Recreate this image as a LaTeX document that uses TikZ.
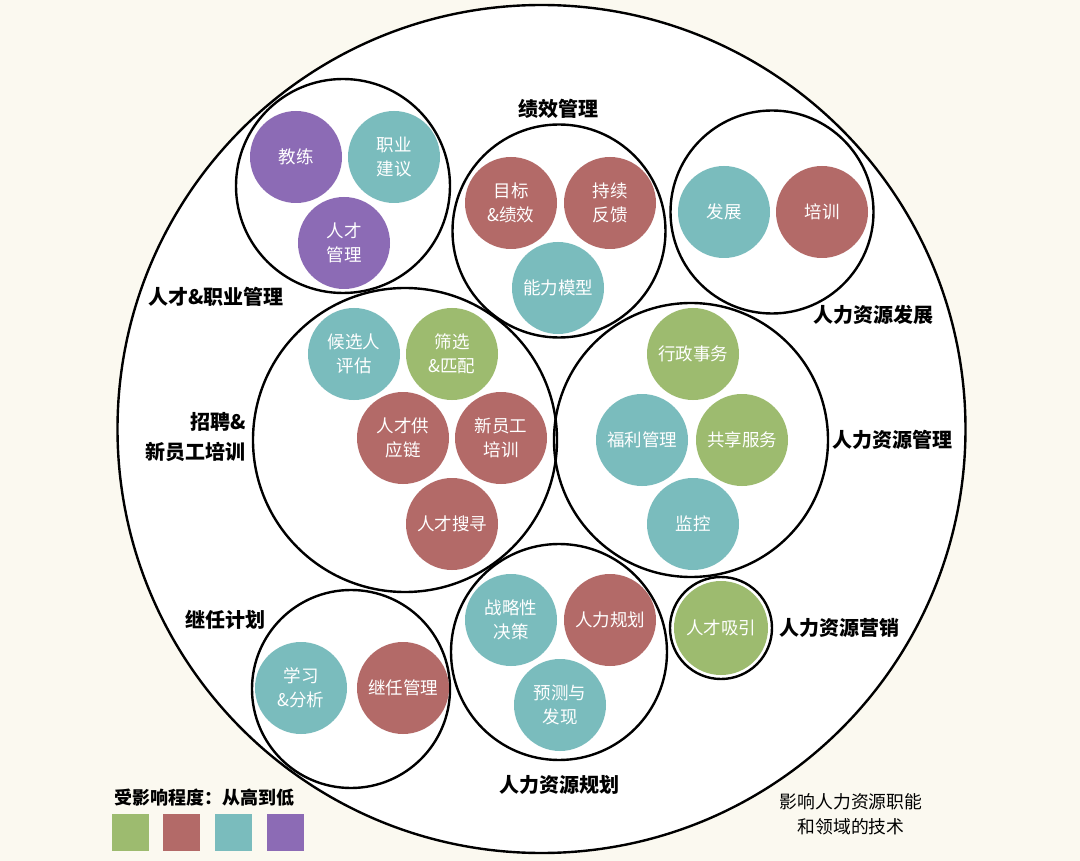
\documentclass[tikz,border=0pt]{standalone}
\usepackage{fontspec}
\setmainfont{Noto Sans CJK SC}
\definecolor{cgreen}{HTML}{9DBB6F}
\definecolor{cred}{HTML}{B36A68}
\definecolor{cteal}{HTML}{7ABCBD}
\definecolor{cpurple}{HTML}{8C6BB5}
\definecolor{bgcream}{HTML}{FBF9F0}
\tikzset{
  bub/.style={circle, fill=#1, draw=none, minimum size=92pt, inner sep=0pt, text=white, align=center, font=\fontsize{17.5}{24}\selectfont},
  grp/.style={circle, draw=black, line width=2.4pt, minimum size=#1, inner sep=0pt},
  lab/.style={font=\bfseries\fontsize{20}{30}\selectfont, text=black, inner sep=0pt},
  note/.style={font=\fontsize{17.8}{25}\selectfont, text=black, align=center, inner sep=0pt},
  legsq/.style={fill=#1, draw=none, minimum size=37pt, inner sep=0pt}
}
\begin{document}
\begin{tikzpicture}[x=1pt,y=-1pt]
\useasboundingbox (0,0) rectangle (1080,861);
\fill[bgcream] (0,0) rectangle (1080,861);
% outer circle
\node[grp=848pt, fill=white] (outer) at (541.5,429) {};
% group circles
\node[grp=214pt] (gtalent) at (343,186) {};
\node[grp=213pt] (gperf) at (559,231) {};
\node[grp=203pt] (gdev) at (772,212) {};
\node[grp=304pt] (grec) at (405,440) {};
\node[grp=274pt] (gadm) at (691,440) {};
\node[grp=198pt] (gsucc) at (351,689) {};
\node[grp=216pt] (gplan) at (559,652) {};
\node[grp=102pt] (gmkt) at (721,628) {};
% bubbles: talent & career
\node[bub=cpurple] (b1) at (296,157) {教练};
\node[bub=cteal] (b2) at (394,157) {职业\\建议};
\node[bub=cpurple] (b3) at (344,243) {人才\\管理};
% performance
\node[bub=cred] (b4) at (511,203) {目标\\\&绩效};
\node[bub=cred] (b5) at (610,203) {持续\\反馈};
\node[bub=cteal] (b6) at (558,288) {能力模型};
% development
\node[bub=cteal] (b7) at (724,212) {发展};
\node[bub=cred] (b8) at (822,212) {培训};
% recruiting
\node[bub=cteal] (b9) at (354,354) {候选人\\评估};
\node[bub=cgreen] (b10) at (452,354) {筛选\\\&匹配};
\node[bub=cred] (b11) at (403,438) {人才供\\应链};
\node[bub=cred] (b12) at (501,438) {新员工\\培训};
\node[bub=cred] (b13) at (452,524) {人才搜寻};
% HR admin
\node[bub=cgreen] (b14) at (693,354) {行政事务};
\node[bub=cteal] (b15) at (642,440) {福利管理};
\node[bub=cgreen] (b16) at (742,440) {共享服务};
\node[bub=cteal] (b17) at (693,524) {监控};
% succession
\node[bub=cteal] (b18) at (301,688) {学习\\\&分析};
\node[bub=cred] (b19) at (403,688) {继任管理};
% planning
\node[bub=cteal] (b20) at (511,620) {战略性\\决策};
\node[bub=cred] (b21) at (610,620) {人力规划};
\node[bub=cteal] (b22) at (560,705) {预测与\\发现};
% marketing
\node[bub=cgreen, minimum size=94pt] (b23) at (721,628) {人才吸引};
% group labels
\node[lab] (l1) at (216,297) {人才\&职业管理};
\node[lab] (l2) at (558,109) {绩效管理};
\node[lab] (l3) at (873,315) {人力资源发展};
\node[lab, align=right, anchor=east] (l4) at (246,437) {招聘\&\\新员工培训};
\node[lab] (l5) at (892,440) {人力资源管理};
\node[lab] (l6) at (225,620) {继任计划};
\node[lab] (l7) at (559,785) {人力资源规划};
\node[lab] (l8) at (839,628) {人力资源营销};
\node[note] (l9) at (851,814) {影响人力资源职能\\和领域的技术};
% legend
\node[lab, anchor=west, font=\bfseries\fontsize{18}{20}\selectfont] (lt) at (114,798) {受影响程度：从高到低};
\node[legsq=cgreen] (s1) at (130.5,832) {};
\node[legsq=cred] (s2) at (181.5,832) {};
\node[legsq=cteal] (s3) at (233.5,832) {};
\node[legsq=cpurple] (s4) at (285,832) {};
\end{tikzpicture}
\end{document}
